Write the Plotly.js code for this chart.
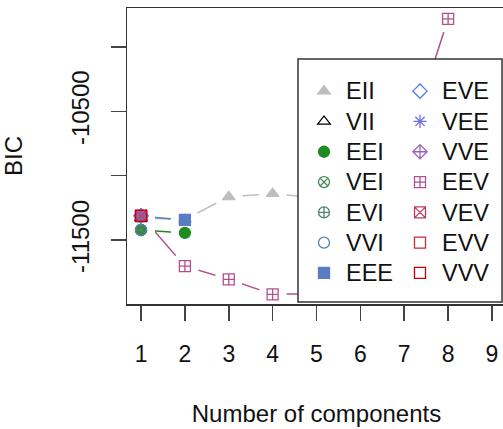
<!DOCTYPE html>
<html>
<head>
<meta charset="utf-8">
<script src="https://cdn.plot.ly/plotly-3.0.1.min.js"></script>
<style>
html,body{margin:0;padding:0;overflow:hidden;background:#fff;}
#chart{width:520px;height:429px;}
</style>
</head>
<body>
<div id="chart"></div>
<script>
// Number of mixture components
var components = [1, 2, 3, 4, 5, 6, 7, 8, 9];

// Model names (legend order)
var models = ["EII","VII","EEI","VEI","EVI","VVI","EEE","EVE","VEE","VVE","EEV","VEV","EVV","VVV"];

// BIC values per model (null = not available); values behind the legend are estimates
var bicEII = [-11328, -11340, -11164, -11140, -11172, -11180, -11190, -11200, -11210];
var bicVII = [-11328, null, null, null, null, null, null, null, null];
var bicEEI = [-11422, -11445, null, null, null, null, null, null, null];
var bicVEI = [-11422, null, null, null, null, null, null, null, null];
var bicEVI = [-11422, null, null, null, null, null, null, null, null];
var bicVVI = [-11422, null, null, null, null, null, null, null, null];
var bicEEE = [-11316, -11344, null, null, null, null, null, null, null];
var bicEVE = [-11312, null, null, null, null, null, null, null, null];
var bicVEE = [-11312, null, null, null, null, null, null, null, null];
var bicVVE = [-11312, null, null, null, null, null, null, null, null];
var bicEEV = [-11312, -11703, -11805, -11922, -11918, -11600, -10840, -9781, null];
var bicVEV = [-11312, null, null, null, null, null, null, null, null];
var bicEVV = [-11312, null, null, null, null, null, null, null, null];
var bicVVV = [-11312, null, null, null, null, null, null, null, null];

var series = [bicEII, bicVII, bicEEI, bicVEI, bicEVI, bicVVI, bicEEE, bicEVE, bicVEE, bicVVE, bicEEV, bicVEV, bicEVV, bicVVV];

var colors = ["#BEBEBE","#000000","#218B21","#41884F","#508476","#58819C","#597DC3",
              "#5178EA","#716EE7","#9B60B8","#B2508B","#C03F60","#C82A36","#CC0000"];
var symbols = ["triangle-up","triangle-up-open","circle","circle-x-open","circle-cross-open","circle-open","square",
               "diamond-open","asterisk-open","diamond-cross-open","square-cross-open","square-x-open","square-open","square-open"];

var traces = [];
// connecting lines
for (var i = 0; i < models.length; i++) {
  traces.push({
    x: components, y: series[i], type: "scatter", mode: "lines",
    line: {color: colors[i], width: 1.5}, connectgaps: false,
    showlegend: false, hoverinfo: "skip"
  });
}
// white gaps around the points (R type = "b")
for (var k = 0; k < models.length; k++) {
  traces.push({
    x: components, y: series[k], type: "scatter", mode: "markers",
    marker: {color: "#fff", symbol: "circle", size: 28, line: {width: 0}},
    showlegend: false, hoverinfo: "skip"
  });
}
// point markers (legend entries)
for (var j = 0; j < models.length; j++) {
  traces.push({
    x: components, y: series[j], type: "scatter", mode: "markers",
    name: '<span style="font-size:23.5px">' + models[j] + '</span>',
    marker: {color: colors[j], symbol: symbols[j], size: 11, line: {color: colors[j], width: 1.3}},
    legend: j < 7 ? "legend" : "legend2"
  });
}

function px2x(p){ return (p - 127) / 379; }
function px2y(p){ return (304 - p) / 296; }

var fam = "Liberation Sans, Arial, sans-serif";
var xTickFont = {family: fam, size: 23, color: "#111"};
var yTickFont = {family: fam, size: 24, color: "#111"};
var titleFont = {family: fam, size: 24, color: "#111"};

var layout = {
  width: 520, height: 429,
  margin: {l: 127, r: 14, t: 8, b: 125},
  paper_bgcolor: "#fff", plot_bgcolor: "#fff",
  font: {family: fam, size: 22, color: "#111"},
  xaxis: {
    range: [0.68, 9.32], tickvals: components, ticks: "outside", ticklen: 15, tickwidth: 1.5, tickcolor: "#444",
    showline: true, linecolor: "#333", linewidth: 1.5, mirror: true, showgrid: false, zeroline: false,
    tickfont: xTickFont, ticklabelstandoff: 14,
    title: {text: "Number of components", font: titleFont, standoff: 39}
  },
  yaxis: {
    range: [-11997, -9697], tickvals: [-11500, -11000, -10500, -10000], ticktext: ["-11500", "", "-10500", ""],
    tickangle: -90, ticks: "outside", ticklen: 15, tickwidth: 1.5, tickcolor: "#444",
    showline: true, linecolor: "#333", linewidth: 1.5, mirror: true, showgrid: false, zeroline: false,
    tickfont: yTickFont, ticklabelstandoff: 12,
    title: {text: "BIC", font: titleFont, standoff: 40}
  },
  shapes: [{
    type: "rect", xref: "paper", yref: "paper", layer: "above",
    x0: px2x(298), x1: px2x(502), y0: px2y(302), y1: px2y(59),
    fillcolor: "#fff", line: {color: "#333", width: 1.5}
  }],
  legend: {
    x: px2x(302), y: px2y(71), xanchor: "left", yanchor: "top", itemwidth: 34,
    bgcolor: "rgba(0,0,0,0)", borderwidth: 0, tracegroupgap: 0,
    font: {family: fam, size: 21, color: "#111"}
  },
  legend2: {
    x: px2x(398), y: px2y(71), xanchor: "left", yanchor: "top", itemwidth: 34,
    bgcolor: "rgba(0,0,0,0)", borderwidth: 0, tracegroupgap: 0,
    font: {family: fam, size: 21, color: "#111"}
  },
  showlegend: true
};

Plotly.newPlot("chart", traces, layout, {displayModeBar: false, staticPlot: true});
</script>
</body>
</html>
